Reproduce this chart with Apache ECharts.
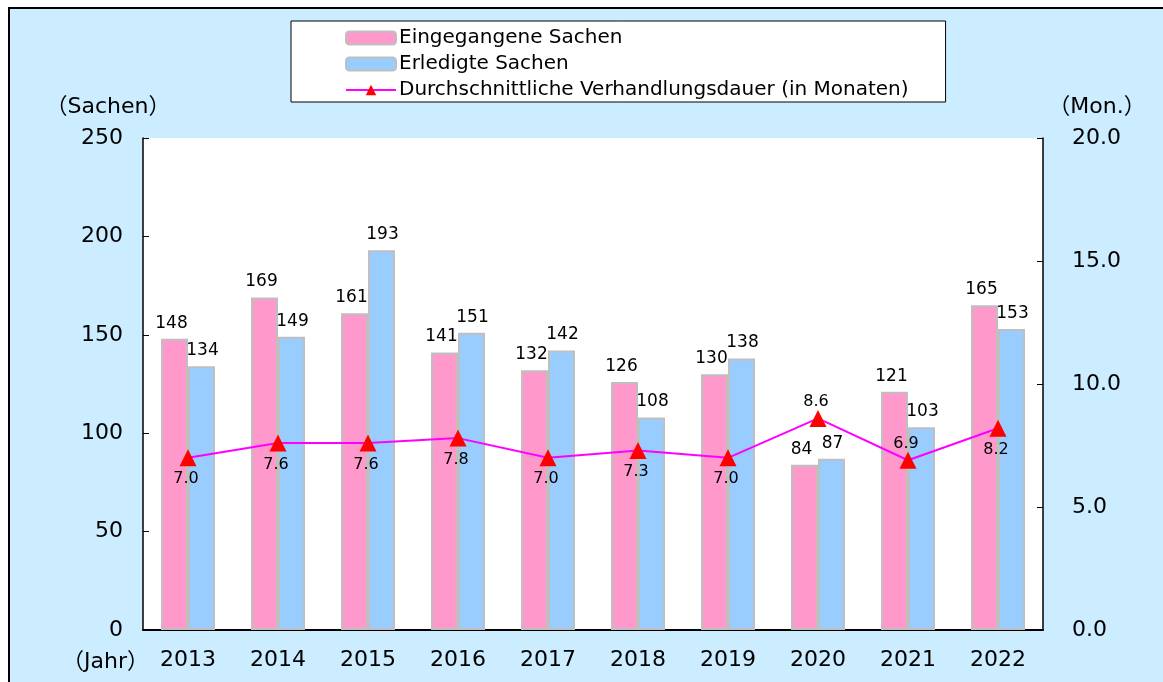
<!DOCTYPE html>
<html>
<head>
<meta charset="utf-8">
<script src="https://cdn.jsdelivr.net/npm/echarts@6/dist/echarts.min.js"></script>
<style>
  html, body { margin: 0; padding: 0; background: #fff; overflow: hidden; }
  #frame { position: absolute; left: 8px; top: 7px; width: 1170px; height: 690px;
           background: #CCECFF; border-left: 2px solid #000; border-top: 2px solid #000; }
  #chart { position: absolute; left: 0; top: 0; width: 1163px; height: 682px; }
</style>
</head>
<body>
<div id="frame"></div>
<div id="chart"></div>
<script>
const years = ['2013', '2014', '2015', '2016', '2017', '2018', '2019', '2020', '2021', '2022'];
const eingegangen = [148, 169, 161, 141, 132, 126, 130, 84, 121, 165];
const erledigt = [134, 149, 193, 151, 142, 108, 138, 87, 103, 153];
const dauer = [7.0, 7.6, 7.6, 7.8, 7.0, 7.3, 7.0, 8.6, 6.9, 8.2];
// Labels der Linie: meist unten, bei 2020 und 2021 oben
const dauerLabelPos = ['bottom', 'bottom', 'bottom', 'bottom', 'bottom', 'bottom', 'bottom', 'top', 'top', 'bottom'];

const FONT = '"DejaVu Sans", "Noto Sans CJK JP", sans-serif';

const chart = echarts.init(document.getElementById('chart'));

const option = {
    backgroundColor: 'transparent',
    textStyle: { fontFamily: FONT, color: '#000' },
    animation: false,
    legend: {
        orient: 'vertical',
        left: 291,
        top: 21,
        padding: [7, 37, 2, 54],
        itemGap: 6,
        itemWidth: 50,
        itemHeight: 13,
        backgroundColor: '#fff',
        borderColor: '#000',
        borderWidth: 1,
        borderRadius: 0,
        textStyle: { fontFamily: FONT, fontSize: 20, lineHeight: 20, color: '#000', padding: [0, 0, 0, -2] },
        data: ['Eingegangene Sachen', 'Erledigte Sachen', 'Durchschnittliche Verhandlungsdauer (in Monaten)']
    },
    grid: { left: 143, right: 120, top: 138, bottom: 52, show: true, backgroundColor: '#fff', borderWidth: 0 },
    graphic: [{
        type: 'text',
        left: 62,
        top: 651,
        style: { text: '（Jahr）', fontFamily: FONT, fontSize: 22, fill: '#000' }
    }],
    xAxis: {
        type: 'category',
        data: years,
        axisLine: { lineStyle: { color: '#000', width: 2 } },
        axisTick: { inside: true, length: 6, lineStyle: { color: '#000' } },
        axisLabel: { fontSize: 22, color: '#000', margin: 19 }
    },
    yAxis: [
        {
            type: 'value',
            min: 0, max: 250, interval: 50,
            name: '（Sachen）',
            nameGap: 20,
            nameTextStyle: { fontSize: 22, color: '#000', align: 'center', padding: [0, 70, 0, 0] },
            axisLine: { show: true, lineStyle: { color: '#000', width: 1.5 } },
            axisTick: { show: true, inside: true, length: 6, lineStyle: { color: '#000' } },
            axisLabel: { fontSize: 22, color: '#000', margin: 20 },
            splitLine: { show: false }
        },
        {
            type: 'value',
            min: 0, max: 20, interval: 5,
            name: '（Mon.）',
            nameGap: 20,
            nameTextStyle: { fontSize: 22, color: '#000', align: 'center', padding: [0, 0, 0, 108] },
            axisLine: { show: true, lineStyle: { color: '#000', width: 1.5 } },
            axisTick: { show: true, inside: true, length: 6, lineStyle: { color: '#000' } },
            axisLabel: { fontSize: 22, color: '#000', margin: 29, formatter: v => v.toFixed(1) },
            splitLine: { show: false }
        }
    ],
    series: [
        {
            name: 'Eingegangene Sachen',
            type: 'bar',
            data: eingegangen,
            barWidth: 27,
            barGap: '0%',
            itemStyle: { color: '#FF99CC', borderColor: '#BFBFBF', borderWidth: 2 },
            label: { show: true, position: 'top', fontSize: 17, color: '#000', distance: 7, offset: [-3, 0] }
        },
        {
            name: 'Erledigte Sachen',
            type: 'bar',
            data: erledigt,
            barWidth: 27,
            barGap: '0%',
            itemStyle: { color: '#99CCFF', borderColor: '#BFBFBF', borderWidth: 2 },
            label: { show: true, position: 'top', fontSize: 17, color: '#000', distance: 7, offset: [1, 0] }
        },
        {
            name: 'Durchschnittliche Verhandlungsdauer (in Monaten)',
            type: 'line',
            yAxisIndex: 1,
            data: dauer.map((v, i) => ({
                value: v,
                label: { position: dauerLabelPos[i], distance: dauerLabelPos[i] === 'top' ? 0 : 5 }
            })),
            symbol: 'triangle',
            symbolSize: 17,
            lineStyle: { color: '#FF00FF', width: 2 },
            itemStyle: { color: '#FF0000' },
            label: { show: true, fontSize: 16, color: '#000', offset: [-2, 0], formatter: p => p.value.toFixed(1) },
            z: 5
        }
    ]
};

chart.setOption(option);
</script>
</body>
</html>
